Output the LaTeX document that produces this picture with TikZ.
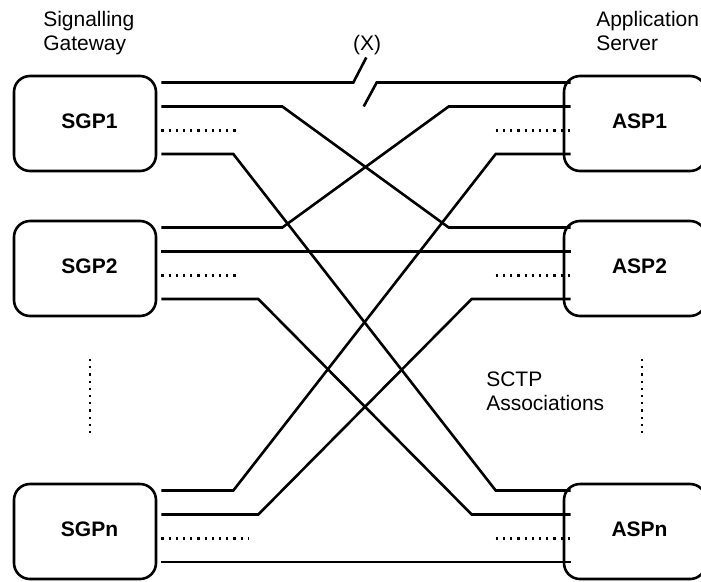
\documentclass[tikz,border=0pt]{standalone}
\usepackage{fontspec}
\setmainfont{Liberation Sans}

\begin{document}
\begin{tikzpicture}[
    x=1pt, y=-1pt,
    line width=2.6pt,
    every node/.style={font=\fontsize{21}{24}\selectfont},
    proc/.style={draw, rectangle, rounded corners=16pt, minimum width=142pt,
      minimum height=95pt, inner sep=0pt,
      label={[xshift=4.5pt, yshift=2.5pt, font=\fontsize{21}{24}\selectfont\bfseries]center:#1}},
    spare/.style={line width=2.3pt, dash pattern=on 2.2pt off 5pt}
  ]

\useasboundingbox (0,0) rectangle (701,581);

% Signalling gateway processes
\node [proc=SGP1] (sgp1) at (85,123.5) {};
\node [proc=SGP2] (sgp2) at (85,268.5) {};
\node [proc=SGPn] (sgpn) at (85,531.5) {};

% Application server processes
\node [proc=ASP1] (asp1) at (635,123.5) {};
\node [proc=ASP2] (asp2) at (635,268.5) {};
\node [proc=ASPn] (aspn) at (635,531.5) {};

% ports on each process
\foreach \n in {sgp1,sgp2,sgpn} {
  \coordinate (\n-a) at ([shift={(4,-41)}]\n.east);
  \coordinate (\n-b) at ([shift={(4,-17)}]\n.east);
  \coordinate (\n-c) at ([shift={(4,7)}]\n.east);
  \coordinate (\n-d) at ([shift={(4,30.5)}]\n.east);
}
\foreach \n in {asp1,asp2,aspn} {
  \coordinate (\n-a) at ([shift={(8,-41)}]\n.west);
  \coordinate (\n-b) at ([shift={(8,-17)}]\n.west);
  \coordinate (\n-c) at ([shift={(8,7)}]\n.west);
  \coordinate (\n-d) at ([shift={(8,30.5)}]\n.west);
}

% SGP1 -- ASP1, broken at (X)
\draw (sgp1-a) -- ([xshift=192]sgp1-a) -- ++(13,-25);
\draw (asp1-a) -- ([xshift=-194]asp1-a) -- ++(-13,24);
\node [anchor=base] (cut) at (367,50) {(X)};

% SCTP associations
\draw (sgp1-b) -- ++(121,0) -- ([xshift=-122]asp2-a) -- (asp2-a);
\draw (sgp1-d) -- ++(72,0) -- ([xshift=-75]aspn-a) -- (aspn-a);
\draw (sgp2-a) -- ++(121,0) -- ([xshift=-122]asp1-b) -- (asp1-b);
\draw (sgp2-b) -- (asp2-b);
\draw (sgp2-d) -- ++(97,0) -- ([xshift=-99]aspn-b) -- (aspn-b);
\draw (sgpn-a) -- ++(72,0) -- ([xshift=-75]asp1-d) -- (asp1-d);
\draw (sgpn-b) -- ++(97,0) -- ([xshift=-99]asp2-d) -- (asp2-d);
\draw (sgpn-d) -- (aspn-d);

% further associations
\draw [spare] (sgp1-c) -- ++(76,0);
\draw [spare] (sgp2-c) -- ++(76,0);
\draw [spare] (sgpn-c) -- ++(87,0);
\foreach \n in {asp1,asp2,aspn}
  \draw [spare] ([xshift=-75]\n-c) -- (\n-c);

% further processes
\draw [spare] (90,359) -- (90,433);
\draw [spare] (642,359) -- (642,433);

% labels
\node [anchor=north west, align=left, inner sep=0pt] (sg) at (42,10) {Signalling\\Gateway};
\node [anchor=north west, align=left, inner sep=0pt] (as) at (595,10) {Application\\Server};
\node [anchor=north west, align=left, inner sep=0pt] (sctp) at (485,371) {SCTP\\Associations};

\end{tikzpicture}
\end{document}
